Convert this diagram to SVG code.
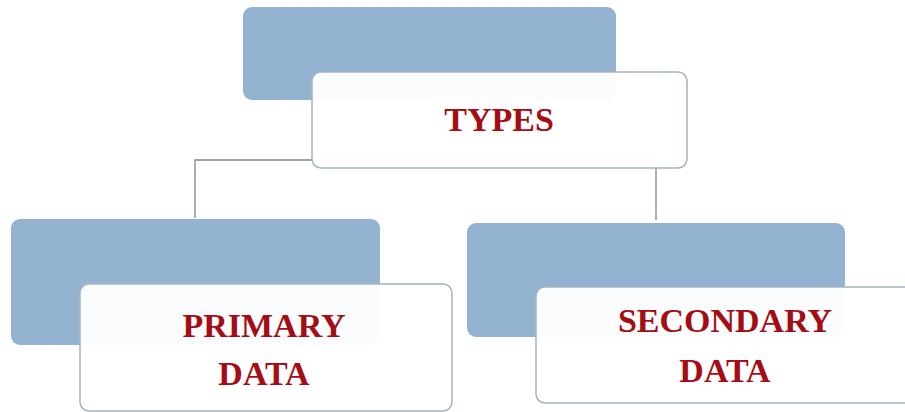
<svg xmlns="http://www.w3.org/2000/svg" width="905" height="412" viewBox="0 0 905 412">
<style>
.back{fill:#94b3d0;}
.front{fill:#ffffff;fill-opacity:0.96;stroke:#a7b4c2;stroke-width:1.5;}
.lbl{font-family:"Liberation Serif","Times New Roman",serif;font-weight:bold;font-size:34px;fill:#a50d14;text-anchor:middle;}
.conn{stroke:#7d8790;stroke-width:1.3;fill:none;}
</style>
<rect width="905" height="412" fill="#ffffff"/>
<g id="connectors">
<path class="conn" d="M195,218 V160 H656 V220"/>
</g>
<g id="types">
<rect class="back" x="243" y="7" width="373" height="93" rx="9"/>
<rect class="front" x="312" y="72" width="375" height="96" rx="9"/>
<text class="lbl" x="499" y="131">TYPES</text>
</g>
<g id="primary">
<rect class="back" x="11" y="219" width="369" height="126" rx="9"/>
<rect class="front" x="80" y="284" width="372" height="127" rx="9"/>
<text class="lbl" x="264" y="337">PRIMARY</text>
<text class="lbl" x="264" y="385">DATA</text>
</g>
<g id="secondary">
<rect class="back" x="467" y="223" width="378" height="114" rx="9"/>
<rect class="front" x="536" y="287" width="380" height="116" rx="9"/>
<text class="lbl" x="725" y="332">SECONDARY</text>
<text class="lbl" x="725" y="382">DATA</text>
</g>
</svg>
